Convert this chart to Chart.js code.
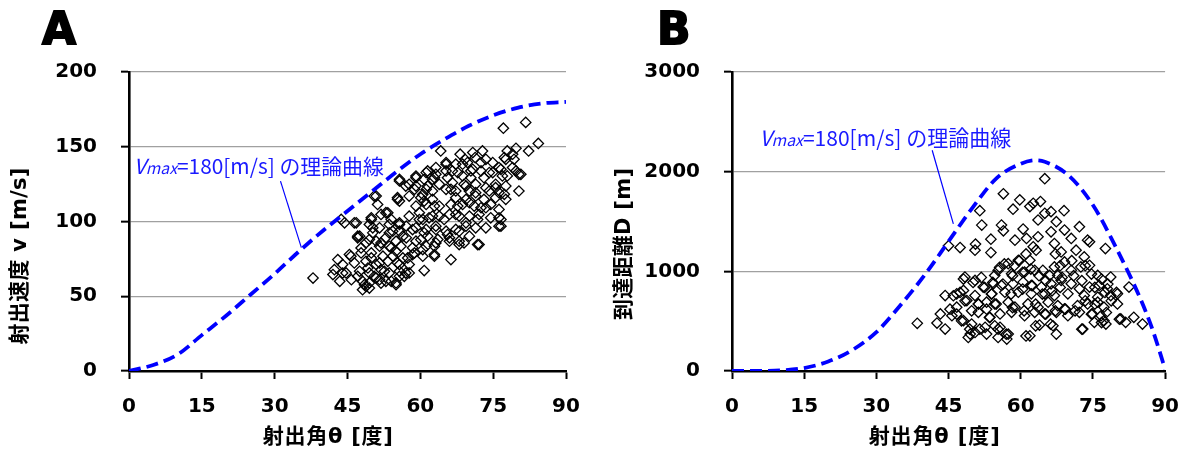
<!DOCTYPE html>
<html><head><meta charset="utf-8">
<script src="https://cdn.jsdelivr.net/npm/chart.js@4.4.1/dist/chart.umd.min.js"></script>
<style>
html,body{margin:0;padding:0;background:#fff;}
#wrap{position:relative;width:1195px;height:452px;overflow:hidden;}
#ca{position:absolute;left:0;top:0;}
#cb{position:absolute;left:600px;top:0;}
</style></head><body>
<div id="wrap"><canvas id="ca" width="600" height="452"></canvas><canvas id="cb" width="595" height="452"></canvas></div>
<script>
// ---------- tick values ----------
const angleTicks = [0, 15, 30, 45, 60, 75, 90];
const speedTicks = [0, 50, 100, 150, 200];
const distTicks = [0, 1000, 2000, 3000];

// ---------- theoretical curves ----------
const curveAngleA = [0,5,10,15,20,25,30,35,40,45,50,55,60,65,70,75,80,85,90];
const curveSpeedA = [0,4,11,24,37,51,65,80,94,107,120,133,145,155,164,171,176,179,180];
const curveAngleB = [0,5,10,15,20,25,30,35,40,45,50,55,60,63,65,70,75,80,85,87.5,90];
const curveDistB  = [0,1,6,30,95,210,390,660,960,1300,1640,1935,2080,2115,2100,1960,1665,1220,710,400,20];

// ---------- observations, panel A (angle [deg], speed [m/s]) ----------
const obsAngleA = [
77.1,81.7,84.3,82.3,79.7,77.9,64.2,68.2,70.8,72.8,
69.2,71.3,73.5,77.3,79.3,79.0,65.3,67.3,63.2,69.7,
74.9,61.5,63.2,65.3,67.7,70.8,72.5,74.9,76.6,79.0,
80.3,59.1,60.8,62.5,65.6,68.7,70.4,73.1,76.9,55.7,
57.7,59.1,61.5,63.9,66.6,69.0,71.4,73.5,75.5,77.6,
80.3,50.9,55.3,58.8,62.5,65.3,67.3,70.1,74.2,76.2,
51.2,52.9,55.7,57.7,60.1,62.5,67.3,69.4,71.4,
73.1,75.5,77.6,59.1,61.2,63.9,66.3,68.7,71.1,73.5,76.2,
49.9,51.9,54.0,55.7,57.7,59.8,61.8,63.9,66.0,68.0,70.1,72.1,74.5,76.6,
44.4,46.4,43.7,47.5,49.5,51.6,53.6,55.7,57.1,59.1,61.2,63.2,65.3,67.3,69.4,71.4,73.5,76.2,
53.6,50.2,47.1,48.8,50.9,52.9,55.0,57.1,59.1,61.5,63.6,66.0,68.0,72.1,
51.6,54.0,56.0,58.4,60.5,62.9,69.0,
43.0,45.4,47.8,49.9,52.3,54.3,56.4,58.4,60.5,62.9,66.3,
44.0,46.4,48.8,50.9,53.3,55.3,57.7,
37.9,42.0,44.7,47.5,49.5,51.9,53.6,55.7,57.7,60.8,
43.4,45.8,48.1,50.9,52.9,55.0,56.7,48.8,49.5,48.1,51.6,
61.2,62.9,65.3,66.6,68.7,70.4,72.5,74.2,76.2,77.9,79.7,80.7,77.6,
61.2,66.3,69.4,71.4,75.5,77.3,60.8,62.9,67.7,70.1,72.5,74.5,76.2,76.6,
60.5,62.5,64.9,67.3,69.4,71.8,60.8,63.2,65.6,68.0,70.1,61.2,63.2,66.0,68.0,71.8,62.9,
50.5,53.3,55.3,55.7,59.1,57.0,60.5,46.8,49.9,50.2,47.1,47.8,49.5,51.9,53.6,54.3,55.7,56.4,58.4,59.8,60.1,
45.7,49.9,49.2,51.6,55.0,55.7,57.4,58.8,42.3,44.0,47.1,50.5,52.6,54.0,55.7,57.0,48.5,49.5,51.9,55.0
];
const obsSpeedA = [
162.4,166.3,152.2,147.2,149.0,147.2,147.2,145.0,146.1,147.2,
141.6,142.8,141.6,142.8,141.6,145.0,139.4,138.3,136.1,139.4,
139.4,133.8,131.6,133.8,132.7,134.9,133.8,132.7,134.9,136.1,
131.6,129.3,128.2,128.2,129.3,130.5,129.3,129.3,130.5,128.2,
124.9,123.7,123.7,124.9,126.0,124.9,124.9,122.6,124.9,123.7,
120.4,117.0,115.9,121.5,120.4,121.5,120.4,120.4,120.4,119.3,
111.4,105.9,113.7,117.0,115.9,114.8,115.9,114.8,117.0,
114.8,115.9,114.8,110.3,111.4,110.3,111.4,111.4,110.3,109.2,108.1,
102.5,104.7,101.4,99.1,103.6,105.9,102.5,103.6,104.7,103.6,103.6,104.7,102.5,101.4,
99.1,99.1,101.4,90.2,98.0,95.8,98.0,93.5,96.9,95.8,94.7,96.9,93.5,94.7,96.9,95.8,95.8,96.9,
92.4,92.4,89.1,85.7,86.8,89.1,86.8,89.1,86.8,90.2,88.0,89.1,86.8,84.6,
83.5,82.4,83.5,82.4,81.2,83.5,85.7,
74.5,77.9,79.0,79.0,76.8,76.8,75.6,77.9,76.8,77.9,74.5,
71.2,72.3,73.4,71.2,73.4,72.3,71.2,
62.2,64.5,65.6,66.7,65.6,67.8,65.6,66.7,65.6,67.2,
60.0,61.1,60.0,62.2,60.0,58.9,63.3,56.6,58.9,54.4,61.1,
132.7,129.3,138.3,133.8,138.3,133.8,139.4,132.7,136.1,130.5,133.8,131.6,141.6,
121.5,121.5,123.7,119.3,122.6,118.2,113.7,110.3,110.3,112.6,109.2,111.4,102.5,96.9,
101.4,103.6,101.4,104.7,99.1,101.4,92.4,94.7,91.3,93.5,90.2,83.5,85.7,86.8,84.6,84.6,76.8,
117.0,105.8,114.8,127.1,130.4,123.7,118.1,99.1,101.3,95.8,90.2,82.3,87.9,85.7,83.4,93.5,98.0,90.2,94.6,101.3,87.9,
76.7,75.6,68.9,72.3,80.1,71.2,75.6,79.0,67.8,65.5,63.3,63.3,66.7,60.0,63.3,65.5,57.7,55.5,58.8,57.7
];

// ---------- observations, panel B (angle [deg], distance [m]) ----------
const obsAngleB = [
65.0,56.4,59.8,62.6,64.1,61.9,58.4,66.3,69.0,51.5,
51.9,56.0,56.4,60.5,63.6,65.0,67.4,69.1,72.2,66.3,
63.6,61.2,58.8,53.8,50.6,50.5,53.8,45.0,47.4,77.6,
62.6,63.2,67.0,70.5,73.9,68.4,71.5,73.2,74.3,55.3,
57.4,59.5,61.9,64.6,67.0,69.1,70.5,72.5,74.3,76.0,
78.7,54.6,58.1,60.8,62.9,66.0,67.7,48.4,50.5,52.2,
54.3,56.0,58.4,60.5,62.2,64.3,66.3,68.4,70.5,72.2,
74.3,76.3,78.0,80.1,82.5,44.3,46.7,48.1,50.5,54.0,
56.7,59.5,62.2,65.0,67.0,69.8,73.2,76.0,78.7,46.7,
48.8,51.2,52.9,54.6,57.4,58.8,61.5,63.6,65.7,67.7,
69.1,71.8,73.9,76.0,77.3,80.1,43.3,45.7,48.1,51.2,
53.6,55.7,58.1,60.8,62.9,65.0,67.4,69.8,72.2,74.9,
76.7,38.5,42.6,44.3,49.8,50.5,49.5,52.6,54.6,55.7,
57.4,55.3,49.1,52.9,61.9,63.9,66.7,67.4,72.9,75.3,
77.7,80.8,81.8,83.5,85.3,77.3,57.1,
46.0,47.4,45.3,46.7,48.4,48.1,50.1,
51.8,52.5,54.2,55.6,56.6,58.7,59.7,61.1,58.3,
60.4,62.1,63.8,65.2,67.2,68.2,70.6,73.4,
74.7,76.8,78.1,79.9,77.5,75.4,72.7,71.0,68.6,66.5,
68.2,64.5,62.4,60.4,58.0,56.3,53.9,54.9,52.9,51.2,
49.8,47.7,49.4,51.5,53.5,55.3,57.0,61.1,63.1,
66.2,65.2,63.1,60.7,58.3,67.2,69.3,71.3,72.7,73.4,
75.4,76.8,78.8,80.5,77.8,74.7
];
const obsDistB = [
1929,1778,1717,1683,1700,1650,1623,1599,1609,1609,
1464,1464,1407,1424,1515,1582,1498,1414,1448,1397,
1347,1330,1313,1323,1273,1212,1188,1256,1239,1229,
1246,1212,1279,1330,1313,1195,1212,1145,1296,1010,
1077,1111,1111,1010,1044,1094,1010,1044,1060,959,
943,959,976,993,1010,959,959,943,909,842,
875,858,875,892,858,842,875,909,875,825,
842,858,825,774,842,757,774,808,757,774,
791,791,774,774,757,774,757,741,757,640,
707,673,690,673,690,640,673,640,690,656,
623,656,673,690,640,673,572,555,505,589,
539,572,589,555,589,572,589,555,589,572,
555,478,481,421,471,387,370,438,454,438,
370,337,337,370,353,461,454,370,421,488,
471,522,488,539,471,505,320,
755,788,620,570,704,923,889,
939,839,889,1040,1074,1057,1107,1174,956,
990,1023,956,906,1174,1057,1107,1057,
973,923,872,788,788,839,906,956,939,805,
839,772,856,822,772,872,772,671,620,671,
604,503,419,419,537,419,369,352,453,
470,570,671,604,637,604,620,604,419,704,
671,486,704,520,587,570
];

// ---------- text ----------
const noteText = '=180[m/s] の理論曲線';
const xTitle = '射出角θ [度]';
const yTitleA = '射出速度 v [m/s]';
const yTitleB = '到達距離D [m]';

const BLUE = '#0000ff';
const TEXT_BLUE = '#1a1aff';
const CJK = '"DejaVu Sans","Noto Sans CJK JP"';

function pairs(xs, ys) {
  const n = Math.min(xs.length, ys.length), out = [];
  for (let i = 0; i < n; i++) out.push({x: xs[i], y: ys[i]});
  return out;
}

function spaced(ctx, text, cx, cy, targetW, font, rot) {
  ctx.save();
  ctx.font = font;
  ctx.fillStyle = '#000';
  ctx.translate(cx, cy);
  if (rot) ctx.rotate(rot);
  ctx.textBaseline = 'middle';
  ctx.textAlign = 'left';
  const n = [...text].length;
  const w0 = ctx.measureText(text).width;
  let w = w0;
  if ('letterSpacing' in ctx && n > 1) {
    const sp = (targetW - w0) / (n - 1);
    ctx.letterSpacing = sp.toFixed(2) + 'px';
    w = targetW;
  }
  ctx.fillText(text, -w / 2, 0);
  ctx.restore();
}

function drawNote(ctx, x, y, targetW) {
  const fam = '"Noto Sans CJK JP"';
  const parts = [
    {t: 'V', s: 20, st: 'italic ', dy: 0},
    {t: 'max', s: 15, st: 'italic ', dy: 1.5},
    {t: noteText, s: 20, st: '', dy: 0}
  ];
  ctx.save();
  let total = 0;
  parts.forEach(p => { ctx.font = p.st + p.s + 'px ' + fam; total += ctx.measureText(p.t).width; });
  const k = targetW / total;
  ctx.fillStyle = TEXT_BLUE;
  ctx.textBaseline = 'middle';
  ctx.textAlign = 'left';
  let cx = x;
  parts.forEach(p => {
    ctx.font = p.st + (p.s * k).toFixed(2) + 'px ' + fam;
    ctx.fillText(p.t, cx, y + p.dy * k);
    cx += ctx.measureText(p.t).width;
  });
  ctx.restore();
}

function overlay(o) {
  return {
    id: 'overlay_' + o.letter,
    afterDatasetsDraw(chart) {
      const ctx = chart.ctx, xs = chart.scales.x, ys = chart.scales.y;
      ctx.save();
      ctx.strokeStyle = BLUE;
      ctx.lineWidth = 1.2;
      ctx.beginPath();
      ctx.moveTo(xs.getPixelForValue(o.lead[0][0]), ys.getPixelForValue(o.lead[0][1]));
      ctx.lineTo(xs.getPixelForValue(o.lead[1][0]), ys.getPixelForValue(o.lead[1][1]));
      ctx.stroke();
      ctx.restore();
      drawNote(ctx, xs.getPixelForValue(o.note[0]), ys.getPixelForValue(o.note[1]), o.noteW);
    },
    afterDraw(chart) {
      const ctx = chart.ctx, ca = chart.chartArea;
      ctx.save();
      ctx.font = 'bold 44px "DejaVu Sans"';
      ctx.fillStyle = '#000';
      ctx.strokeStyle = '#000';
      ctx.lineWidth = 1.8;
      ctx.textBaseline = 'alphabetic';
      ctx.fillText(o.letter, o.letterX, 44);
      ctx.strokeText(o.letter, o.letterX, 44);
      ctx.restore();
      spaced(ctx, xTitle, ca.left + o.xtFrac * (ca.right - ca.left), ca.bottom + 67, o.xtW, 'bold 21px ' + CJK, 0);
      spaced(ctx, o.yTitle, ca.left - o.ytDx, ca.top + o.ytDy, o.ytW, 'bold 21px ' + CJK, -Math.PI / 2);
    }
  };
}

function makeChart(id, o) {
  const ctx = document.getElementById(id).getContext('2d');
  return new Chart(ctx, {
    type: 'scatter',
    data: {
      datasets: [
        {
          label: 'obs',
          data: o.points,
          pointStyle: 'rectRot',
          pointRadius: 5.2,
          pointBorderWidth: 1.3,
          borderColor: '#000',
          backgroundColor: 'rgba(0,0,0,0)',
          pointBackgroundColor: 'rgba(0,0,0,0)',
          order: 2
        },
        {
          label: 'theory',
          data: o.curve,
          showLine: true,
          pointRadius: 0,
          borderColor: BLUE,
          borderWidth: 3.8,
          borderDash: [12, 6],
          cubicInterpolationMode: 'monotone',
          fill: false,
          order: 1
        }
      ]
    },
    options: {
      responsive: false,
      animation: false,
      events: [],
      layout: {padding: {top: 72, right: o.padRight, left: 0, bottom: 0}},
      plugins: {legend: {display: false}, tooltip: {enabled: false}},
      scales: {
        x: {
          type: 'linear',
          min: angleTicks[0], max: angleTicks[angleTicks.length - 1],
          afterFit(s) { s.height = 81; },
          afterBuildTicks(s) { s.ticks = angleTicks.map(v => ({value: v})); },
          ticks: {
            color: '#000', padding: 16, maxRotation: 0, autoSkip: false,
            font: {family: 'DejaVu Sans', weight: 'bold', size: 20},
            callback: v => String(v)
          },
          grid: {drawOnChartArea: false, tickLength: 8, tickColor: '#000', tickWidth: 2},
          border: {color: '#000', width: 2.6}
        },
        y: {
          type: 'linear',
          min: o.yTicks[0], max: o.yTicks[o.yTicks.length - 1],
          afterFit(s) { s.width = o.yWidth; },
          afterBuildTicks(s) { s.ticks = o.yTicks.map(v => ({value: v})); },
          ticks: {
            color: '#000', padding: 24,
            font: {family: 'DejaVu Sans', weight: 'bold', size: 20},
            callback: v => String(v)
          },
          grid: {color: '#a0a0a0', lineWidth: 1.3, tickLength: 8, tickColor: '#000', tickWidth: 2},
          border: {color: '#000', width: 2.6}
        }
      }
    },
    plugins: [overlay(o)]
  });
}

makeChart('ca', {
  letter: 'A', letterX: 42,
  points: pairs(obsAngleA, obsSpeedA),
  curve: pairs(curveAngleA, curveSpeedA),
  yTicks: speedTicks, yWidth: 129, padRight: 34,
  lead: [[31.2, 127], [35.5, 82.5]],
  note: [1.0, 137], noteW: 250,
  yTitle: yTitleA, xtFrac: 0.455, xtW: 130, ytDx: 108, ytDy: 184, ytW: 177
});
makeChart('cb', {
  letter: 'B', letterX: 57,
  points: pairs(obsAngleB, obsDistB),
  curve: pairs(curveAngleB, curveDistB),
  yTicks: distTicks, yWidth: 132, padRight: 24,
  lead: [[41.6, 2215], [46.0, 1477]],
  note: [5.7, 2336], noteW: 252,
  yTitle: yTitleB, xtFrac: 0.467, xtW: 131, ytDx: 107, ytDy: 172, ytW: 152
});
</script>
</body></html>
